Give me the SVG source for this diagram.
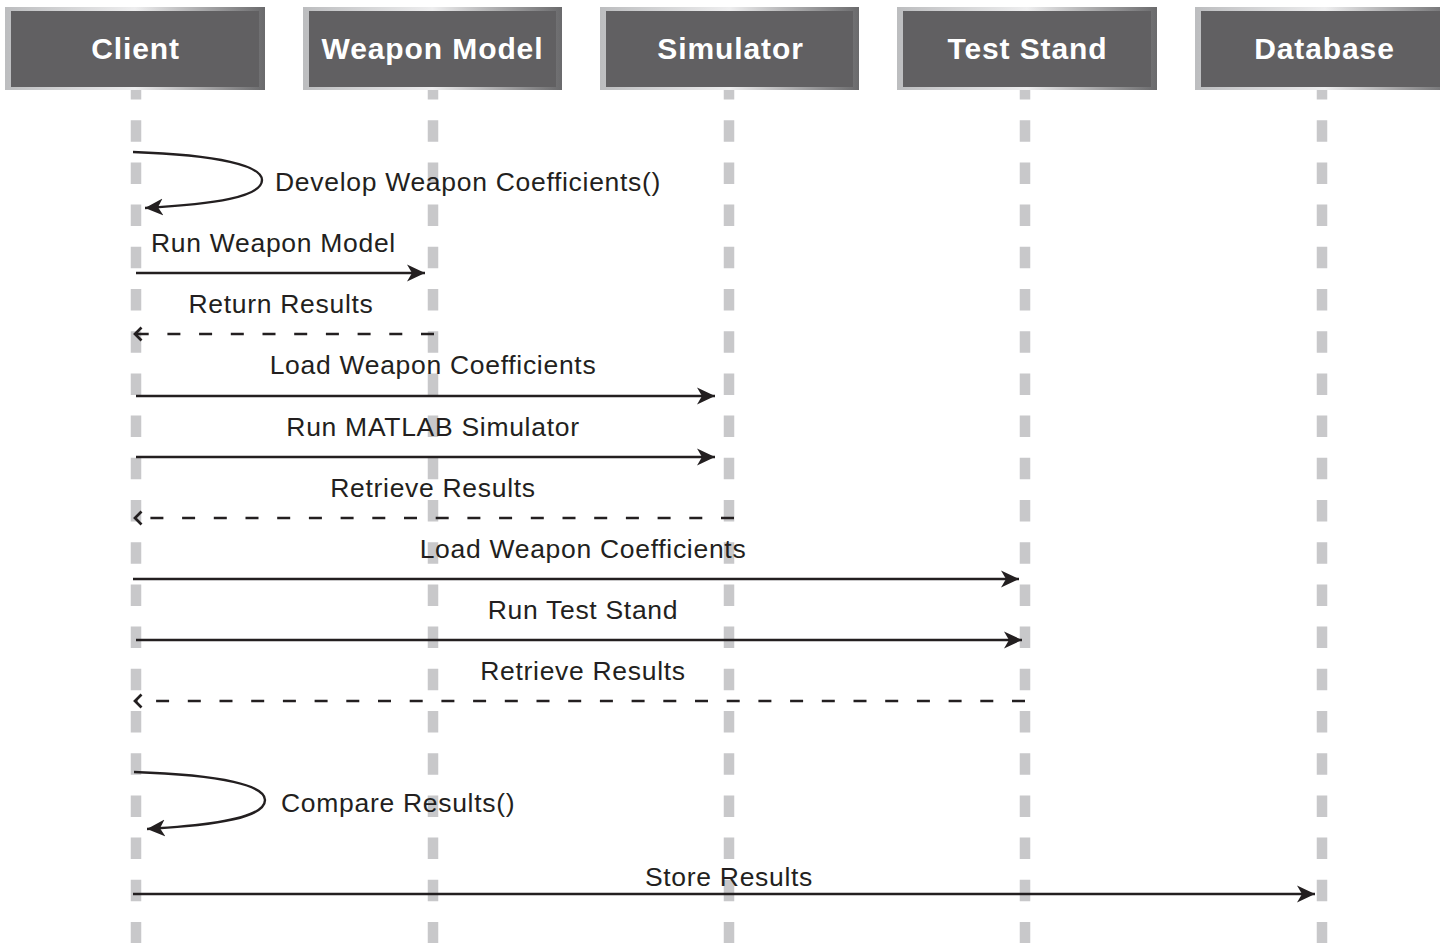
<svg xmlns="http://www.w3.org/2000/svg" width="1440" height="943" viewBox="0 0 1440 943">
<style>
.frame{fill:url(#frameGrad);}
.inner{fill:#616062;}
.htxt{font-family:"Liberation Sans",Arial,sans-serif;font-weight:bold;font-size:30px;letter-spacing:0.9px;fill:#ffffff;text-anchor:middle;}
.life{stroke:#c8c8ca;stroke-width:10.5;stroke-dasharray:21.5 20.7;fill:none;}
.msg{stroke:#231f20;stroke-width:2.4;fill:none;}
.ret{stroke:#231f20;stroke-width:2.5;fill:none;stroke-dasharray:13 18.7;}
.lbl{font-family:"Liberation Sans",Arial,sans-serif;font-size:26.5px;letter-spacing:0.7px;fill:#231f20;}
.mid{text-anchor:middle;}
</style>
<defs>
<linearGradient id="frameGrad" x1="0" y1="0" x2="1" y2="0">
<stop offset="0" stop-color="#bcbdbf"/>
<stop offset="0.5" stop-color="#ededee"/>
<stop offset="1" stop-color="#6a6a6c"/>
</linearGradient>
<marker id="arr" markerUnits="userSpaceOnUse" markerWidth="22" markerHeight="20" refX="18" refY="9" orient="auto">
<path d="M0,0.5 L18,9 L0,17.5 L5,9 Z" fill="#231f20"/>
</marker>
<marker id="open" markerUnits="userSpaceOnUse" markerWidth="14" markerHeight="18" refX="9" refY="8" orient="auto">
<path d="M2.5,1.5 L9,8 L2.5,14.5" fill="none" stroke="#231f20" stroke-width="2.7"/>
</marker>
</defs>

<g id="lifelines">
<line class="life" x1="136" y1="78" x2="136" y2="943"/>
<line class="life" x1="433" y1="78" x2="433" y2="943"/>
<line class="life" x1="729" y1="78" x2="729" y2="943"/>
<line class="life" x1="1025" y1="78" x2="1025" y2="943"/>
<line class="life" x1="1322" y1="78" x2="1322" y2="943"/>
</g>

<g id="client">
<rect class="frame" x="5" y="7" width="260" height="83"/>
<rect class="inner" x="11" y="11" width="248" height="76"/>
<text class="htxt" x="135.5" y="59">Client</text>
</g>
<g id="weapon-model">
<rect class="frame" x="303" y="7" width="259" height="83"/>
<rect class="inner" x="309" y="11" width="247" height="76"/>
<text class="htxt" x="432.5" y="59">Weapon Model</text>
</g>
<g id="simulator">
<rect class="frame" x="600" y="7" width="259" height="83"/>
<rect class="inner" x="606" y="11" width="247" height="76"/>
<text class="htxt" x="730.5" y="59">Simulator</text>
</g>
<g id="test-stand">
<rect class="frame" x="897" y="7" width="260" height="83"/>
<rect class="inner" x="903" y="11" width="248" height="76"/>
<text class="htxt" x="1027.5" y="59">Test Stand</text>
</g>
<g id="database">
<rect class="frame" x="1195" y="7" width="260" height="83"/>
<rect class="inner" x="1201" y="11" width="248" height="76"/>
<text class="htxt" x="1324.5" y="59">Database</text>
</g>

<g id="connectors">
<path class="msg" d="M133,152 C220,155 262,166 262,180 C262,197 215,204 145,208" marker-end="url(#arr)"/>
<line class="msg" x1="136" y1="273" x2="425" y2="273" marker-end="url(#arr)"/>
<line class="ret" x1="434" y1="334" x2="135" y2="334" marker-end="url(#open)"/>
<line class="msg" x1="136" y1="396" x2="715" y2="396" marker-end="url(#arr)"/>
<line class="msg" x1="136" y1="457" x2="715" y2="457" marker-end="url(#arr)"/>
<line class="ret" x1="734" y1="518" x2="135" y2="518" marker-end="url(#open)"/>
<line class="msg" x1="133" y1="579" x2="1019" y2="579" marker-end="url(#arr)"/>
<line class="msg" x1="136" y1="640" x2="1022" y2="640" marker-end="url(#arr)"/>
<line class="ret" x1="1025" y1="701" x2="135" y2="701" marker-end="url(#open)"/>
<path class="msg" d="M134,772 C225,775 265,786 265,800 C265,817 220,825 147,829" marker-end="url(#arr)"/>
<line class="msg" x1="133" y1="894" x2="1315" y2="894" marker-end="url(#arr)"/>
</g>

<g id="labels">
<text class="lbl" x="275" y="191">Develop Weapon Coefficients()</text>
<text class="lbl" x="151" y="252">Run Weapon Model</text>
<text class="lbl mid" x="281" y="313">Return Results</text>
<text class="lbl mid" x="433" y="374">Load Weapon Coefficients</text>
<text class="lbl mid" x="433" y="436">Run MATLAB Simulator</text>
<text class="lbl mid" x="433" y="497">Retrieve Results</text>
<text class="lbl mid" x="583" y="558">Load Weapon Coefficients</text>
<text class="lbl mid" x="583" y="619">Run Test Stand</text>
<text class="lbl mid" x="583" y="680">Retrieve Results</text>
<text class="lbl" x="281" y="812">Compare Results()</text>
<text class="lbl mid" x="729" y="886">Store Results</text>
</g>
</svg>
